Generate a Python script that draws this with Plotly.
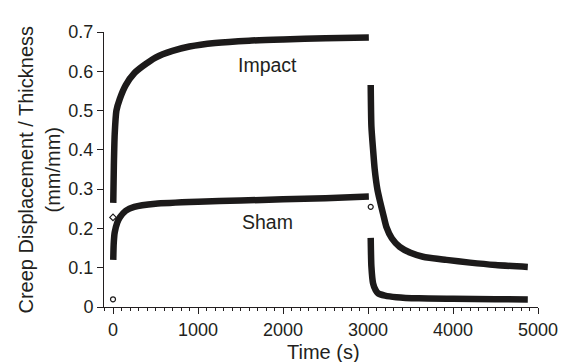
import plotly.graph_objects as go

# Impact: creep phase then recovery phase
impact_creep_t = [3, 10, 20, 40, 80, 150, 250, 350, 500, 700, 900, 1200, 1600, 2000, 2500, 3010]
impact_creep_v = [0.265, 0.36, 0.44, 0.50, 0.53, 0.565, 0.595, 0.613, 0.635, 0.652, 0.663, 0.672, 0.678, 0.681, 0.684, 0.686]
impact_rec_t = [3032, 3040, 3060, 3079, 3110, 3138, 3180, 3216, 3280, 3373, 3500, 3647, 3922, 4200, 4500, 4880]
impact_rec_v = [0.565, 0.46, 0.40, 0.35, 0.30, 0.272, 0.235, 0.204, 0.175, 0.153, 0.138, 0.128, 0.120, 0.113, 0.107, 0.102]

# Sham: creep phase then recovery phase
sham_creep_t = [3, 8, 20, 50, 80, 150, 250, 500, 1000, 1500, 2000, 2500, 3010]
sham_creep_v = [0.12, 0.16, 0.19, 0.215, 0.228, 0.245, 0.255, 0.263, 0.268, 0.271, 0.274, 0.277, 0.281]
sham_rec_t = [3032, 3040, 3060, 3090, 3118, 3200, 3334, 3600, 4000, 4500, 4880]
sham_rec_v = [0.176, 0.103, 0.06, 0.043, 0.035, 0.029, 0.025, 0.022, 0.021, 0.020, 0.019]

# Isolated open markers
open_circle_t = [0, 3032]
open_circle_v = [0.0196, 0.255]
open_diamond_t = [0]
open_diamond_v = [0.228]

x_ticks = [0, 1000, 2000, 3000, 4000, 5000]
y_ticks = [0, 0.1, 0.2, 0.3, 0.4, 0.5, 0.6, 0.7]
y_ticktext = ["0", "0.1", "0.2", "0.3", "0.4", "0.5", "0.6", "0.7"]

curve_color = "#1c1a1a"
line_w = 6.5

fig = go.Figure()
for t, v in [(impact_creep_t, impact_creep_v), (impact_rec_t, impact_rec_v),
             (sham_creep_t, sham_creep_v), (sham_rec_t, sham_rec_v)]:
    fig.add_trace(go.Scatter(x=t, y=v, mode="lines",
                             line=dict(color=curve_color, width=line_w, shape="spline", smoothing=0.6),
                             showlegend=False, hoverinfo="skip"))

fig.add_trace(go.Scatter(x=open_circle_t, y=open_circle_v, mode="markers",
                         marker=dict(symbol="circle-open", size=5, color=curve_color, line=dict(width=1.2)),
                         showlegend=False))
fig.add_trace(go.Scatter(x=open_diamond_t, y=open_diamond_v, mode="markers",
                         marker=dict(symbol="diamond-open", size=5, color=curve_color, line=dict(width=1.2)),
                         showlegend=False))

font_family = "Liberation Sans, Arial, sans-serif"
text_color = "#231f20"

fig.add_annotation(x=1820, y=0.616, text="Impact", showarrow=False,
                   font=dict(family=font_family, size=19.5, color=text_color))
fig.add_annotation(x=1814, y=0.216, text="Sham", showarrow=False,
                   font=dict(family=font_family, size=19.5, color=text_color))

# y-axis title lines (rotated), offset in pixels from the plot's left edge
fig.add_annotation(x=0, y=0.5, xref="paper", yref="paper", xshift=-79,
                   xanchor="center", yanchor="middle",
                   text="Creep Displacement / Thickness", textangle=-90,
                   showarrow=False, font=dict(family=font_family, size=20, color=text_color))
fig.add_annotation(x=0, y=0.5, xref="paper", yref="paper", xshift=-52,
                   xanchor="center", yanchor="middle",
                   text="(mm/mm)", textangle=-90,
                   showarrow=False, font=dict(family=font_family, size=20, color=text_color))
# x-axis title
fig.add_annotation(x=0.505, y=0, xref="paper", yref="paper", yshift=-45,
                   xanchor="center", yanchor="middle", text="Time (s)",
                   showarrow=False, font=dict(family=font_family, size=20, color=text_color))

fig.update_layout(
    width=573, height=362,
    margin=dict(l=104, r=35, t=32, b=55, autoexpand=False),
    paper_bgcolor="white", plot_bgcolor="white",
    font=dict(family=font_family, color=text_color),
)
fig.update_xaxes(range=[-106, 5000], tickvals=x_ticks, automargin=False,
                 showgrid=False, zeroline=False, showline=True, linecolor=text_color, linewidth=1,
                 ticks="outside", ticklen=6, tickcolor=text_color,
                 minor=dict(dtick=100, ticks="outside", ticklen=3, tickcolor=text_color, showgrid=False),
                 tickfont=dict(size=18))
fig.update_yaxes(range=[0, 0.7], tickvals=y_ticks, ticktext=y_ticktext, automargin=False,
                 showgrid=False, zeroline=False, showline=True, linecolor=text_color, linewidth=1,
                 ticks="outside", ticklen=6, tickcolor=text_color, tickfont=dict(size=18))

fig.write_html("out.html", config={"displayModeBar": False},
               post_script="document.body.style.margin='0';document.body.style.overflow='hidden';")
